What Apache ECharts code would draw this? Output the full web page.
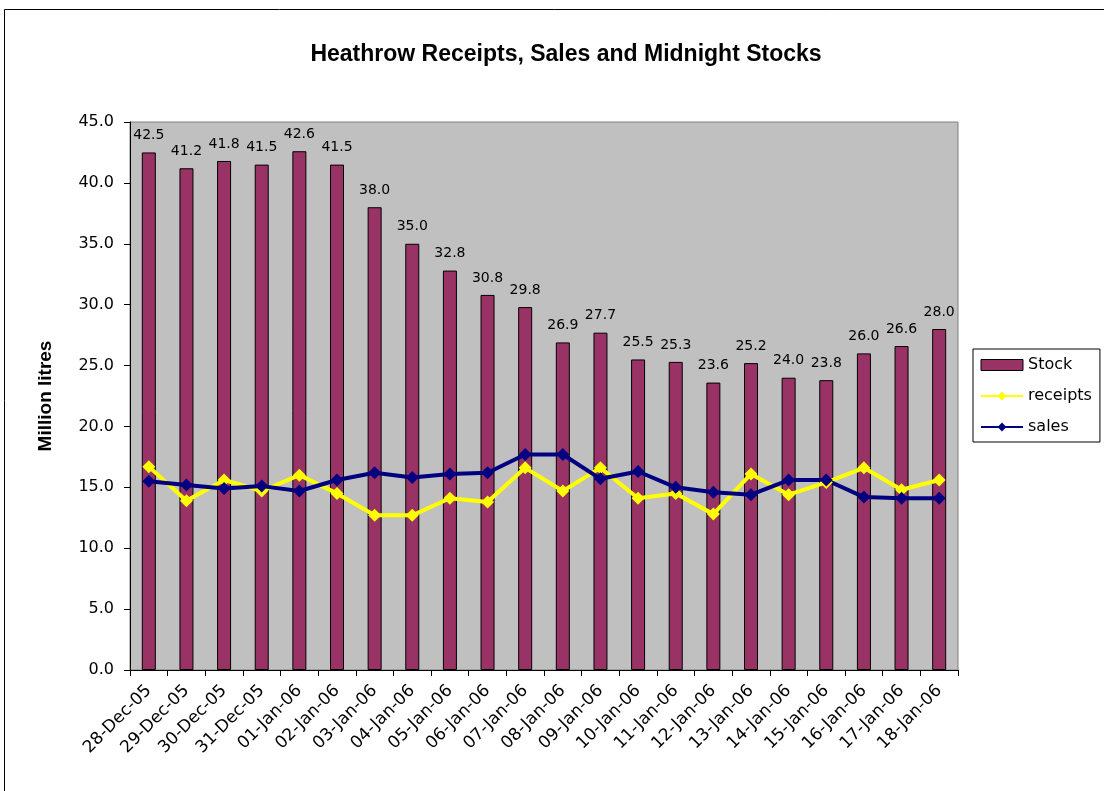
<!DOCTYPE html>
<html><head><meta charset="utf-8">
<script src="https://cdn.jsdelivr.net/npm/echarts@6/dist/echarts.min.js"></script>
<style>html,body{margin:0;padding:0;background:#fff}#c{width:1104px;height:791px}</style>
</head><body><div id="c"></div>
<script>
const categories = ['28-Dec-05','29-Dec-05','30-Dec-05','31-Dec-05','01-Jan-06','02-Jan-06','03-Jan-06','04-Jan-06','05-Jan-06','06-Jan-06','07-Jan-06','08-Jan-06','09-Jan-06','10-Jan-06','11-Jan-06','12-Jan-06','13-Jan-06','14-Jan-06','15-Jan-06','16-Jan-06','17-Jan-06','18-Jan-06'];
const stock = [42.5,41.2,41.8,41.5,42.6,41.5,38.0,35.0,32.8,30.8,29.8,26.9,27.7,25.5,25.3,23.6,25.2,24.0,23.8,26.0,26.6,28.0];
const receipts = [16.7,13.9,15.6,14.7,16.0,14.5,12.7,12.7,14.1,13.8,16.6,14.7,16.6,14.1,14.5,12.8,16.1,14.4,15.4,16.6,14.8,15.6];
const sales = [15.5,15.2,14.9,15.1,14.7,15.6,16.2,15.8,16.1,16.2,17.7,17.7,15.7,16.3,15.0,14.6,14.4,15.6,15.6,14.2,14.1,14.1];

const FA = 'Liberation Sans, Arial, sans-serif';
const FD = 'DejaVu Sans, sans-serif';
const chart = echarts.init(document.getElementById('c'), null, {renderer:'canvas'});
chart.setOption({
  backgroundColor:'#fff',
  animation:false,
  graphic:[{type:'rect',shape:{x:4.5,y:9.5,width:1110,height:800},style:{fill:'none',stroke:'#000',lineWidth:1}}],
  title:{text:'Heathrow Receipts, Sales and Midnight Stocks',left:561,textAlign:'center',top:38,
    textStyle:{fontFamily:FA,fontSize:23,fontWeight:'bold',color:'#000'}},
  legend:{orient:'vertical',left:973,top:349,itemGap:11,padding:[6,8,5,7],
    borderColor:'#000',borderWidth:1,backgroundColor:'#fff',itemWidth:42,itemHeight:11,
    textStyle:{fontFamily:FD,fontSize:16,color:'#000',lineHeight:20},
    data:[{name:'Stock',icon:'rect',itemStyle:{borderWidth:1,borderColor:'#000'}},'receipts','sales']},
  grid:{left:130,right:146,top:122,bottom:121,show:true,backgroundColor:'#C0C0C0',borderColor:'#808080',borderWidth:1},
  xAxis:{type:'category',data:categories,boundaryGap:true,
    axisLine:{lineStyle:{color:'#000',width:1}},
    axisTick:{show:true,length:6,lineStyle:{color:'#000'}},
    axisLabel:{rotate:45,fontFamily:FD,fontSize:17,color:'#000',margin:18,interval:0}},
  yAxis:{type:'value',min:0,max:45,interval:5,name:'Million litres',nameLocation:'middle',nameGap:75,
    nameTextStyle:{fontFamily:FA,fontSize:19,fontWeight:'bold',color:'#000'},
    splitLine:{show:false},
    axisLine:{show:true,lineStyle:{color:'#000'}},
    axisTick:{show:true,length:6,lineStyle:{color:'#000'}},
    axisLabel:{fontFamily:FD,fontSize:16,color:'#000',margin:16,formatter:v=>v.toFixed(1)}},
  series:[
    {name:'Stock',type:'bar',data:stock,barWidth:14,
      itemStyle:{color:'#993366',borderColor:'#000',borderWidth:1},
      label:{show:true,position:'top',distance:10,fontFamily:FD,fontSize:14,color:'#000',formatter:p=>p.value.toFixed(1)}},
    {name:'receipts',type:'line',data:receipts,symbol:'diamond',symbolSize:13,
      lineStyle:{color:'#FFFF00',width:4},itemStyle:{color:'#FFFF00'}},
    {name:'sales',type:'line',data:sales,symbol:'diamond',symbolSize:13,
      lineStyle:{color:'#000080',width:4},itemStyle:{color:'#000080'}}
  ]
});
</script></body></html>
